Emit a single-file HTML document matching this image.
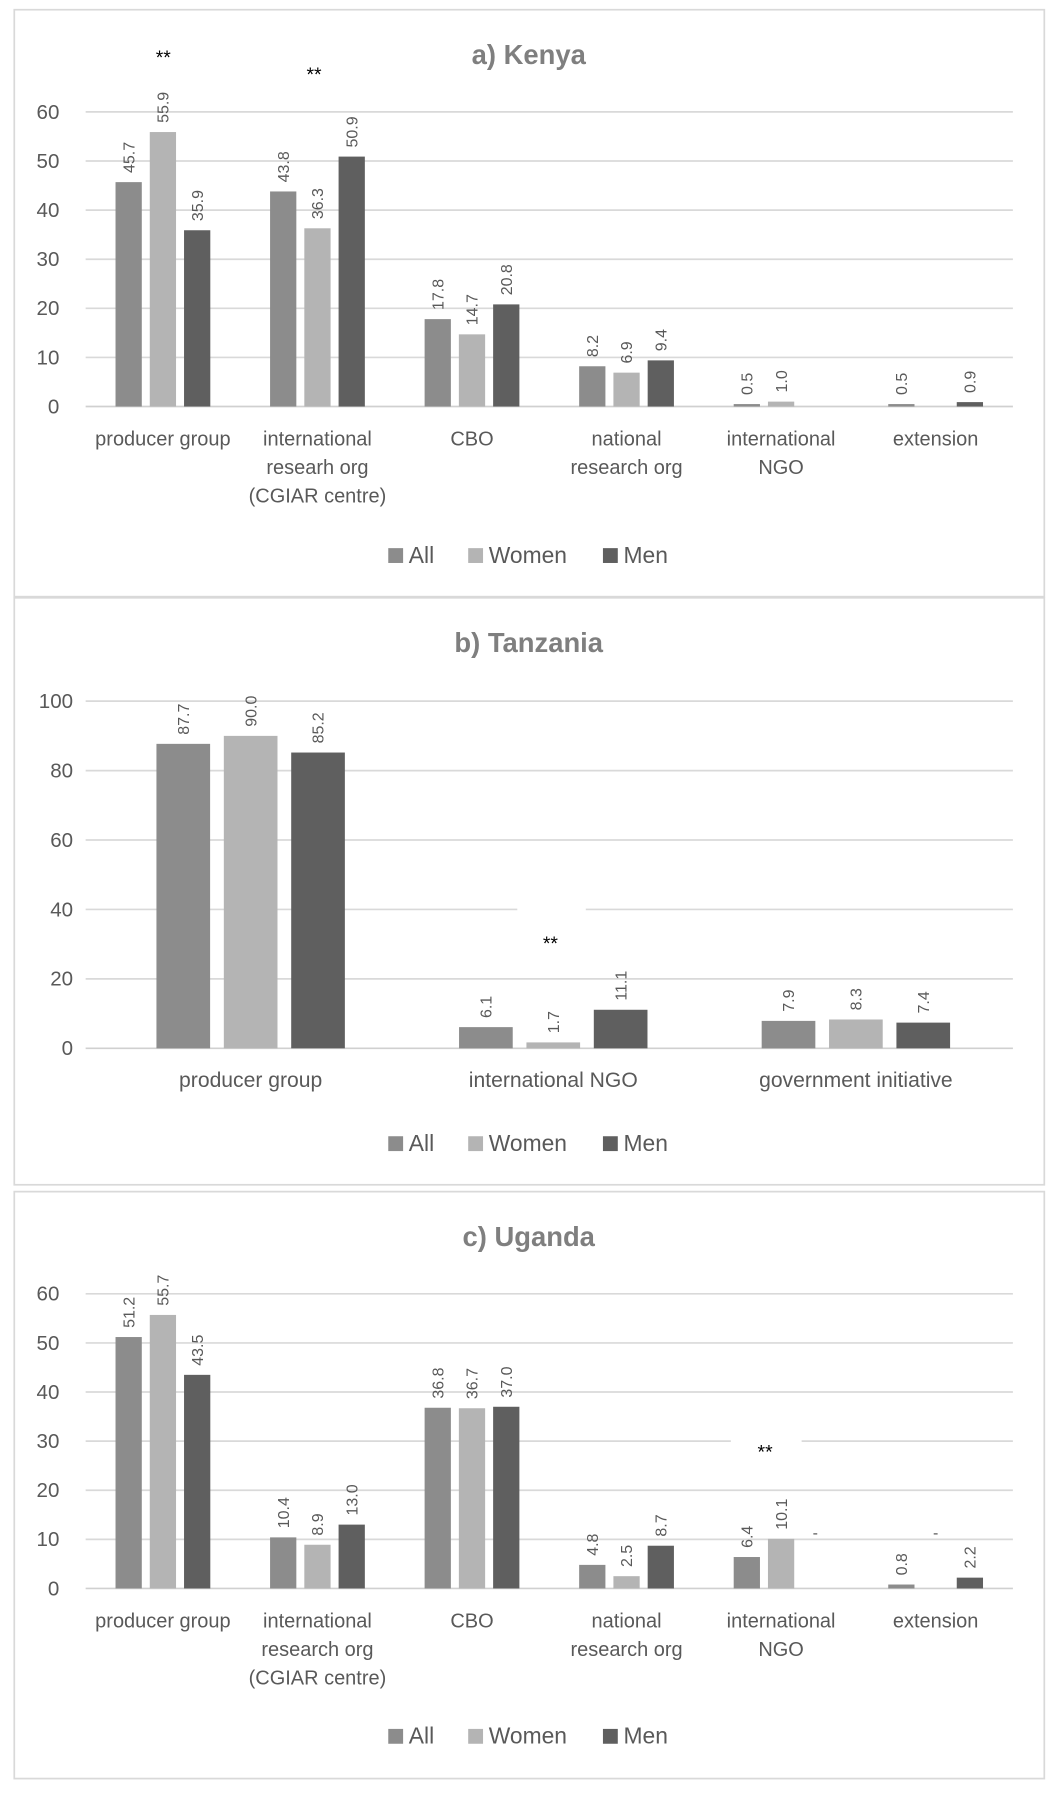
<!DOCTYPE html>
<html><head><meta charset="utf-8"><style>
html,body{margin:0;padding:0;background:#fff}
svg{display:block}
text{font-family:"Liberation Sans",sans-serif;fill:#595959}
</style></head><body>
<svg id="chart" width="1062" height="1794" viewBox="0 0 930 1571" preserveAspectRatio="none" xmlns="http://www.w3.org/2000/svg"></svg>
<script>
const seriesNames = ["All","Women","Men"];
const colors = ["#8c8c8c","#b4b4b4","#5f5f5f"];

const kenyaCategories = [["producer group"],["international","researh org","(CGIAR centre)"],["CBO"],["national","research org"],["international","NGO"],["extension"]];
const kenyaAll = [45.7,43.8,17.8,8.2,0.5,0.5];
const kenyaWomen = [55.9,36.3,14.7,6.9,1.0,null];
const kenyaMen = [35.9,50.9,20.8,9.4,null,0.9];
const kenyaTicks = [0,10,20,30,40,50,60];

const tanzaniaCategories = [["producer group"],["international NGO"],["government initiative"]];
const tanzaniaAll = [87.7,6.1,7.9];
const tanzaniaWomen = [90.0,1.7,8.3];
const tanzaniaMen = [85.2,11.1,7.4];
const tanzaniaTicks = [0,20,40,60,80,100];

const ugandaCategories = [["producer group"],["international","research org","(CGIAR centre)"],["CBO"],["national","research org"],["international","NGO"],["extension"]];
const ugandaAll = [51.2,10.4,36.8,4.8,6.4,0.8];
const ugandaWomen = [55.7,8.9,36.7,2.5,10.1,"-"];
const ugandaMen = [43.5,13.0,37.0,8.7,"-",2.2];
const ugandaTicks = [0,10,20,30,40,50,60];

const svg = document.getElementById('chart');
const NS = "http://www.w3.org/2000/svg";
function mk(tag, attrs, parent){
  const e = document.createElementNS(NS, tag);
  for (const k in attrs) e.setAttribute(k, attrs[k]);
  (parent||svg).appendChild(e);
  return e;
}

function panel(cfg){
  const g = mk('g', {});
  
  
  const box = mk('rect', {x:12.5, y:cfg.top+0.5, width:902, height:514, fill:'#fff', stroke:'#d9d9d9', 'stroke-width':1.5}, g);
  
  
  const t = mk('text', {x:463, y:cfg.top+48, 'text-anchor':'middle', 'font-size':24, 'font-weight':'bold', style:'fill:#7f7f7f'}, g);
  t.textContent = cfg.title;
  
  
  const y0 = cfg.top + cfg.zeroOff, ymaxPix = cfg.top + cfg.maxOff;
  const maxV = cfg.ticks[cfg.ticks.length-1];
  const yS = v => y0 - (v/maxV)*(y0-ymaxPix);
  const x0 = 75, x1 = 887;
  const bx0 = cfg.bx0 || x0, bx1 = cfg.bx1 || x1;
  const n = cfg.cats.length, bw = (bx1-bx0)/n;
  const xC = i => bx0 + bw*(i+0.5);
  cfg.ticks.forEach(tv => {
    const ln = mk('line', {x1:x0, x2:x1, y1:yS(tv), y2:yS(tv), stroke: tv===0?'#d0d0d0':'#d9d9d9', 'stroke-width':1.5}, g);
    
    
    const tl = mk('text', {x:cfg.tickX, y:yS(tv)+6, 'text-anchor':'end', 'font-size':18}, g);
    tl.textContent = tv;
    
    
  });
  (cfg.masks||[]).forEach(m => {
    mk('rect', {x:m[0], y:cfg.top+m[1], width:m[2], height:m[3], fill:'#fff'}, g);
  });
  const series = [cfg.all, cfg.women, cfg.men];
  series.forEach((vals, s) => {
    vals.forEach((v, i) => {
      const cx = xC(i) + (s-1)*cfg.off;
      if (typeof v === 'number') {
        const r = mk('rect', {x:cx-cfg.w/2, y:yS(v), width:cfg.w, height:y0-yS(v), fill:colors[s]}, g);
        
        
        const ly = yS(v) - 8;
        const lt = mk('text', {x:cx+5, y:ly, transform:`rotate(-90 ${cx+5} ${ly})`, 'font-size':14}, g);
        lt.textContent = v.toFixed(1);
        
        
      } else if (v === '-') {
        const lt = mk('text', {x:cx, y:y0-44, 'text-anchor':'middle', 'font-size':14}, g);
        lt.textContent = '-';
        
        
      }
    });
  });
  cfg.cats.forEach((lines, i) => {
    lines.forEach((s, k) => {
      const ct = mk('text', {x:xC(i), y:y0+34+k*25, 'text-anchor':'middle', 'font-size':cfg.catSize}, g);
      ct.textContent = s;
      
      
    });
  });
  (cfg.stars||[]).forEach(st => {
    const s = mk('text', {x:st[0], y:cfg.top+st[1], 'text-anchor':'middle', 'font-size':17, style:'fill:#000'}, g);
    s.textContent = '**';
    
    
  });
  const ly = cfg.top + cfg.legendOff;
  const legX = [[340,358],[410,428],[528,546]];
  seriesNames.forEach((nm, s) => {
    const lg = mk('g', {}, g);
    
    
    mk('rect', {x:legX[s][0], y:ly-13, width:13, height:13, fill:colors[s]}, lg);
    const tx = mk('text', {x:legX[s][0]+18, y:ly, 'font-size':20}, lg);
    tx.textContent = nm;
  });
}

panel({name:'panel-kenya', top:8, title:'a) Kenya', cats:kenyaCategories, all:kenyaAll, women:kenyaWomen, men:kenyaMen, ticks:kenyaTicks, zeroOff:348, maxOff:90, tickX:52, w:23, off:30, catSize:17.5, legendOff:485, stars:[[143,48],[275,63]]});
panel({name:'panel-tanzania', top:523, title:'b) Tanzania', cats:tanzaniaCategories, all:tanzaniaAll, women:tanzaniaWomen, men:tanzaniaMen, ticks:tanzaniaTicks, zeroOff:395, maxOff:91, tickX:64, w:47, off:59, bx0:87, bx1:882, catSize:18.5, legendOff:485, masks:[[453,268,60,20]], stars:[[482,309]]});
panel({name:'panel-uganda', top:1043, title:'c) Uganda', cats:ugandaCategories, all:ugandaAll, women:ugandaWomen, men:ugandaMen, ticks:ugandaTicks, zeroOff:348, maxOff:90, tickX:52, w:23, off:30, catSize:17.5, legendOff:484, masks:[[640,211,62,20]], stars:[[670,234]]});
</script>
</body></html>
